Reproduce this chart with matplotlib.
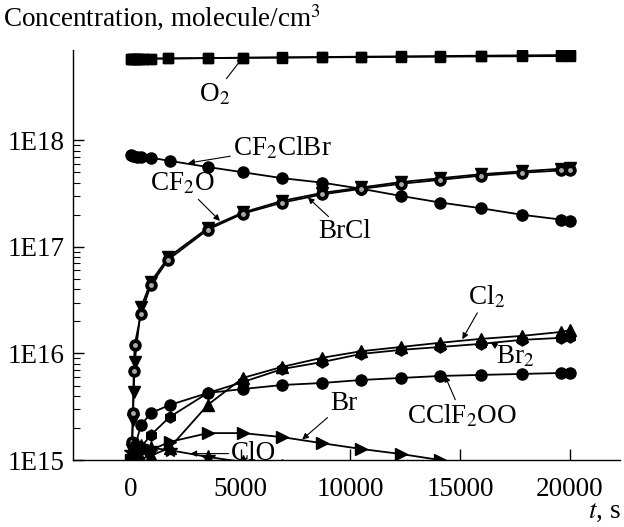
import matplotlib
matplotlib.use("Agg")
import matplotlib.pyplot as plt

plt.rcParams['font.family'] = ['Liberation Serif', 'DejaVu Serif']
plt.rcParams['mathtext.fontset'] = 'stix'

# time grids (s)
t_o2 = [0, 100, 200, 350, 550, 900, 1700, 3500, 5100, 6900, 8700, 10500, 12300, 14100, 15950, 17800, 19600, 20000]
t_main = [0, 100, 250, 450, 900, 1750, 3500, 5100, 6900, 8700, 10500, 12300, 14100, 15950, 17800, 19600, 20000]
t_rise = [0, 40, 80, 120, 160, 450, 900, 1700, 3500, 5100, 6900, 8700, 10500, 12300, 14100, 15950, 17800, 19600, 20000]
t_low = [0, 450, 900, 1750, 3500, 5100, 6900, 8700, 10500, 12300, 14100, 15950, 17800, 19600, 20000]
t_br = [0, 150, 450, 900, 1750, 3500, 5100, 6900, 8700, 10500, 12300, 14100, 15950]
t_clo = [0, 100, 250, 450, 900, 1750, 3500, 5100, 6900]

# concentrations (molecule/cm3)
o2 = [5.80e18, 5.80e18, 5.80e18, 5.80e18, 5.81e18, 5.82e18, 5.84e18, 5.88e18, 5.92e18, 5.95e18,
      5.98e18, 6.01e18, 6.04e18, 6.07e18, 6.10e18, 6.12e18, 6.15e18, 6.16e18]
o2_b = [5.80e18, 5.80e18, 5.80e18, 5.80e18, 5.81e18, 5.82e18, 5.84e18, 5.89e18, 5.94e18, 5.98e18,
        6.02e18, 6.07e18, 6.11e18, 6.15e18, 6.20e18, 6.24e18, 6.28e18, 6.30e18]
cf2clbr = [7.2e17, 7.1e17, 7.0e17, 6.9e17, 6.85e17, 6.4e17, 5.6e17, 5.0e17, 4.4e17, 4.0e17,
           3.5e17, 3.0e17, 2.6e17, 2.3e17, 2.0e17, 1.8e17, 1.75e17]
cf2o = [1.0e15, 1.24e15, 2.4e15, 4.35e15, 8.3e15, 2.7e16, 4.7e16, 8.0e16, 1.5e17, 2.1e17,
        2.7e17, 3.2e17, 3.6e17, 4.05e17, 4.4e17, 4.8e17, 5.1e17, 5.4e17, 5.5e17]
brcl = [1.0e15, 1.48e15, 2.76e15, 6.85e15, 1.2e16, 2.35e16, 4.4e16, 7.6e16, 1.45e17, 2.05e17,
        2.6e17, 3.1e17, 3.5e17, 3.9e17, 4.25e17, 4.65e17, 4.95e17, 5.2e17, 5.3e17]
cl2 = [1.0e15, 1.02e15, 1.1e15, 1.3e15, 3.3e15, 5.9e15, 7.5e15, 9.1e15, 1.05e16, 1.15e16,
       1.26e16, 1.37e16, 1.46e16, 1.59e16, 1.66e16]
br2 = [1.0e15, 1.32e15, 1.72e15, 2.53e15, 4.26e15, 5.4e15, 7.15e15, 8.3e15, 9.9e15, 1.08e16,
       1.15e16, 1.23e16, 1.34e16, 1.40e16, 1.43e16]
cclf2oo = [1.0e15, 2.13e15, 2.76e15, 3.28e15, 4.26e15, 4.64e15, 5.06e15, 5.28e15, 5.64e15, 5.89e15,
           6.15e15, 6.29e15, 6.42e15, 6.56e15, 6.6e15]
br = [1.0e15, 1.1e15, 1.19e15, 1.24e15, 1.48e15, 1.79e15, 1.79e15, 1.64e15, 1.44e15, 1.27e15,
      1.14e15, 1.0e15, 0.88e15]
clo = [1.2e15, 1.35e15, 1.4e15, 1.35e15, 1.30e15, 1.24e15, 1.07e15, 0.96e15, 0.88e15]

fig = plt.figure(figsize=(6.24, 5.27), dpi=100)
ax = fig.add_axes([0.117, 0.127, 0.877, 0.778])

lw = 1.3
ax.plot(t_o2, o2_b, color='k', lw=lw, marker='s', ms=7, mfc='white', mec='k', mew=1.0)
ax.plot(t_o2, o2, color='k', lw=lw, marker='s', ms=7, mfc='k', mec='k')
ax.plot(t_main, cf2clbr, color='k', lw=lw, marker='o', ms=8, mfc='k', mec='k')
ax.plot(t_rise, cf2o, color='k', lw=lw, marker='v', ms=9, mfc='k', mec='k')
ax.plot(t_rise, brcl, color='k', lw=lw, marker='o', ms=8, mfc='k', mec='k')
ax.plot(t_rise, brcl, ls='none', marker='o', ms=2.5, mfc='#a8a8a8', mec='#a8a8a8')
ax.plot(t_low, cl2, color='k', lw=lw, marker='^', ms=9, mfc='k', mec='k')
ax.plot(t_low, br2, color='k', lw=lw, marker='h', ms=8, mfc='k', mec='k')
ax.plot(t_low, cclf2oo, color='k', lw=lw, marker='o', ms=8, mfc='k', mec='k')
ax.plot(t_br, br, color='k', lw=lw, marker='>', ms=9, mfc='k', mec='k')
ax.plot(t_clo, clo, color='k', lw=lw, marker='*', ms=10, mfc='k', mec='k')

ax.set_yscale('log')
ax.set_ylim(1e15, 7e18)
ax.set_xlim(-2650, 22300)
ax.set_xticks([0, 5000, 10000, 15000, 20000])
ax.set_yticks([1e15, 1e16, 1e17, 1e18])
ax.set_yticklabels(['1E15', '1E16', '1E17', '1E18'])
minor = [m * 10.0 ** e for e in (15, 16, 17) for m in range(2, 10)]
ax.set_yticks(minor, minor=True)
ax.yaxis.set_minor_formatter(matplotlib.ticker.NullFormatter())
fs = 19.5
ax.tick_params(axis='both', which='major', direction='in', length=8, width=1.0, labelsize=fs)
ax.tick_params(axis='y', which='minor', direction='in', length=5, width=0.8)
ax.tick_params(axis='x', pad=12)
ax.tick_params(axis='y', pad=6)
for s in ('top', 'right'):
    ax.spines[s].set_visible(False)
for s in ('left', 'bottom'):
    ax.spines[s].set_linewidth(1.0)

fig.text(0.005, 0.965, 'Concentration, molecule/cm$^3$', fontsize=fs, va='center', ha='left')
fig.text(0.995, 0.03, '$t$, s', fontsize=fs, va='center', ha='right')

arw = dict(arrowstyle='-|>', color='k', lw=0.8, mutation_scale=9, shrinkA=0, shrinkB=0)
ax.annotate('O$_2$', xy=(5100, 6.0e18), xytext=(3800, 2.7e18), fontsize=fs, ha='center', va='center', arrowprops=arw)
ax.annotate('CF$_2$ClBr', xy=(2600, 6.1e17), xytext=(6900, 8.5e17), fontsize=fs, ha='center', va='center', arrowprops=arw)
ax.annotate('CF$_2$O', xy=(4050, 1.75e17), xytext=(2350, 3.9e17), fontsize=fs, ha='center', va='center', arrowprops=arw)
ax.annotate('BrCl', xy=(8060, 2.9e17), xytext=(9750, 1.38e17), fontsize=fs, ha='center', va='center', arrowprops=arw)
ax.annotate('Cl$_2$', xy=(15100, 1.36e16), xytext=(16200, 3.4e16), fontsize=fs, ha='center', va='center', arrowprops=arw)
ax.annotate('Br$_2$', xy=(16400, 1.26e16), xytext=(17500, 9.3e15), fontsize=fs, ha='center', va='center', arrowprops=arw)
ax.annotate('CClF$_2$OO', xy=(14300, 6.2e15), xytext=(15100, 2.6e15), fontsize=fs, ha='center', va='center', arrowprops=arw)
ax.annotate('Br', xy=(7800, 1.56e15), xytext=(9700, 3.4e15), fontsize=fs, ha='center', va='center', arrowprops=arw)
ax.annotate('ClO', xy=(2700, 1.15e15), xytext=(5600, 1.15e15), fontsize=fs, ha='center', va='center', arrowprops=arw)

fig.savefig('out.png', dpi=100)
